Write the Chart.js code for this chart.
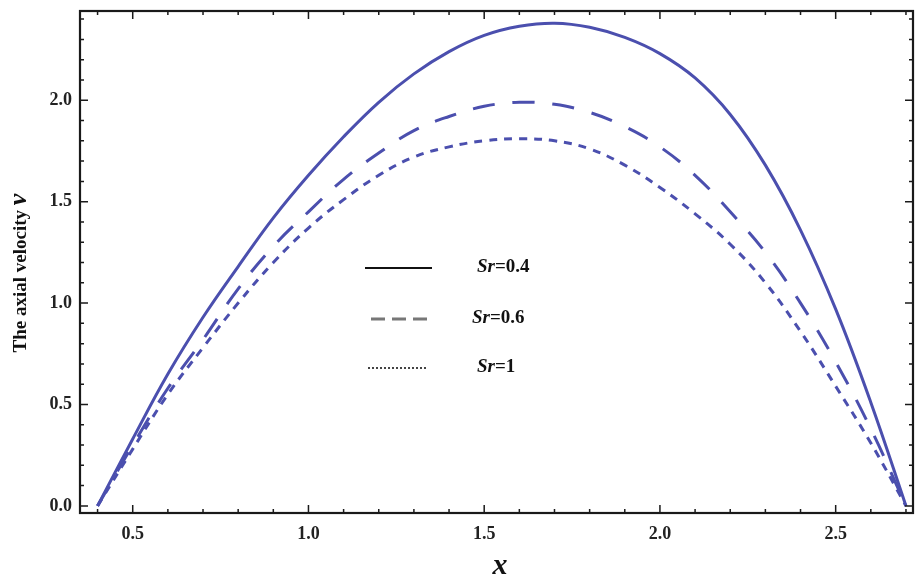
<!DOCTYPE html>
<html>
<head>
<meta charset="utf-8">
<script src="https://cdn.jsdelivr.net/npm/chart.js@4"></script>
<style>
  html, body { margin: 0; padding: 0; background: #fff; }
  #wrap { width: 915px; height: 579px; }
</style>
</head>
<body>
<div id="wrap"><canvas id="velChart"></canvas></div>
<script>
// x positions along the channel
const xs = [0.4, 0.5, 0.6, 0.7, 0.8, 0.9, 1.0, 1.1, 1.2, 1.3, 1.4, 1.5,
            1.6, 1.7, 1.8, 1.9, 2.0, 2.1, 2.2, 2.3, 2.4, 2.5, 2.6, 2.7];

// axial velocity v for each Sr
const sr04 = [0, 0.33, 0.65, 0.93, 1.18, 1.42, 1.63, 1.82, 1.99, 2.13, 2.24, 2.32,
              2.365, 2.38, 2.36, 2.31, 2.23, 2.11, 1.93, 1.68, 1.36, 0.97, 0.51, 0];
const sr06 = [0, 0.30, 0.58, 0.82, 1.07, 1.28, 1.45, 1.61, 1.74, 1.85, 1.92, 1.97,
              1.99, 1.98, 1.94, 1.87, 1.77, 1.63, 1.45, 1.25, 1.00, 0.71, 0.38, 0];
const sr1  = [0, 0.28, 0.55, 0.78, 1.00, 1.20, 1.37, 1.51, 1.63, 1.72, 1.77, 1.80,
              1.81, 1.80, 1.76, 1.68, 1.57, 1.44, 1.29, 1.10, 0.86, 0.59, 0.31, 0];

const seriesNames = ['0.4', '0.6', '1'];
const xTicks = [0.5, 1.0, 1.5, 2.0, 2.5];
const yTicks = [0.0, 0.5, 1.0, 1.5, 2.0];

const lineColor = '#4b4fae';
const serif = "'Liberation Serif', 'DejaVu Serif', serif";

function pts(ys) {
  return xs.map((x, i) => ({ x: x, y: ys[i] }));
}

// frame with inward ticks on all four sides (Mathematica style)
const framePlugin = {
  id: 'frame',
  afterDatasetsDraw(chart) {
    const { ctx, chartArea: a, scales } = chart;
    const sx = scales.x, sy = scales.y;
    ctx.save();
    ctx.strokeStyle = '#1a1a1a';
    ctx.lineWidth = 1.5;
    for (let k = 4; k <= 27; k++) {
      const px = sx.getPixelForValue(k / 10);
      if (px < a.left || px > a.right) continue;
      const len = (k % 5 === 0) ? 8 : 4;
      ctx.beginPath();
      ctx.moveTo(px, a.bottom); ctx.lineTo(px, a.bottom - len);
      ctx.moveTo(px, a.top); ctx.lineTo(px, a.top + len);
      ctx.stroke();
    }
    for (let k = 0; k <= 24; k++) {
      const py = sy.getPixelForValue(k / 10);
      if (py < a.top || py > a.bottom) continue;
      const len = (k % 5 === 0) ? 8 : 4;
      ctx.beginPath();
      ctx.moveTo(a.left, py); ctx.lineTo(a.left + len, py);
      ctx.moveTo(a.right, py); ctx.lineTo(a.right - len, py);
      ctx.stroke();
    }
    ctx.lineWidth = 2.2;
    ctx.strokeRect(a.left, a.top, a.right - a.left, a.bottom - a.top);

    // axis titles
    ctx.fillStyle = '#111';
    ctx.font = "bold italic 30px " + serif;
    ctx.textAlign = 'center';
    ctx.textBaseline = 'alphabetic';
    ctx.fillText('x', 500, 574);

    ctx.translate(26, 273);
    ctx.rotate(-Math.PI / 2);
    const t1 = 'The axial velocity ';
    ctx.font = "bold 19px " + serif;
    const w1 = ctx.measureText(t1).width;
    ctx.font = "bold italic 26px " + serif;
    const w2 = ctx.measureText('v').width;
    const start = -(w1 + w2) / 2;
    ctx.textAlign = 'left';
    ctx.font = "bold 19px " + serif;
    ctx.fillText(t1, start, 0);
    ctx.font = "bold italic 26px " + serif;
    ctx.fillText('v', start + w1, 0);
    ctx.restore();
  }
};

// legend drawn inside the plot, like the original figure
const legendPlugin = {
  id: 'innerLegend',
  afterDatasetsDraw(chart) {
    const { ctx } = chart;
    const rows = [
      { y: 268, x0: 365, x1: 432, color: '#111', width: 2, dash: [], tx: 477 },
      { y: 319, x0: 371, x1: 428, color: '#777', width: 3, dash: [14, 7], tx: 472 },
      { y: 368, x0: 368, x1: 426, color: '#444', width: 2, dash: [2, 2], tx: 477 }
    ];
    ctx.save();
    rows.forEach((r, i) => {
      ctx.beginPath();
      ctx.setLineDash(r.dash);
      ctx.strokeStyle = r.color;
      ctx.lineWidth = r.width;
      ctx.moveTo(r.x0, r.y); ctx.lineTo(r.x1, r.y);
      ctx.stroke();
      ctx.setLineDash([]);
      ctx.fillStyle = '#111';
      ctx.textBaseline = 'middle';
      ctx.textAlign = 'left';
      ctx.font = "bold italic 19px " + serif;
      ctx.fillText('Sr', r.tx, r.y - 1);
      const w = ctx.measureText('Sr').width;
      ctx.font = "bold 19px " + serif;
      ctx.fillText('=' + seriesNames[i], r.tx + w, r.y - 1);
    });
    ctx.restore();
  }
};

new Chart(document.getElementById('velChart'), {
  type: 'line',
  data: {
    datasets: [
      { label: 'Sr=0.4', data: pts(sr04), borderColor: lineColor, borderWidth: 3, borderDash: [] },
      { label: 'Sr=0.6', data: pts(sr06), borderColor: lineColor, borderWidth: 3, borderDash: [22, 18] },
      { label: 'Sr=1', data: pts(sr1), borderColor: lineColor, borderWidth: 3, borderDash: [8, 7] }
    ]
  },
  options: {
    responsive: true,
    maintainAspectRatio: false,
    animation: false,
    layout: { padding: { top: 11, right: 2, left: 0, bottom: 0 } },
    elements: {
      point: { radius: 0 },
      line: { tension: 0.4, fill: false }
    },
    plugins: {
      legend: { display: false },
      tooltip: { enabled: false }
    },
    scales: {
      x: {
        type: 'linear',
        min: 0.35,
        max: 2.72,
        grid: { display: false, drawTicks: false },
        border: { display: false },
        afterBuildTicks: s => { s.ticks = xTicks.map(v => ({ value: v })); },
        afterFit: s => { s.height = 66; s.paddingLeft = 0; s.paddingRight = 0; },
        ticks: {
          padding: 11,
          color: '#222',
          font: { family: serif, size: 18, weight: 'bold' },
          callback: v => v.toFixed(1)
        }
      },
      y: {
        type: 'linear',
        min: -0.035,
        max: 2.44,
        grid: { display: false, drawTicks: false },
        border: { display: false },
        afterBuildTicks: s => { s.ticks = yTicks.map(v => ({ value: v })); },
        afterFit: s => { s.width = 80; s.paddingTop = 0; s.paddingBottom = 0; },
        ticks: {
          padding: 8,
          color: '#222',
          font: { family: serif, size: 18, weight: 'bold' },
          callback: v => v.toFixed(1)
        }
      }
    }
  },
  plugins: [framePlugin, legendPlugin]
});
</script>
</body>
</html>
